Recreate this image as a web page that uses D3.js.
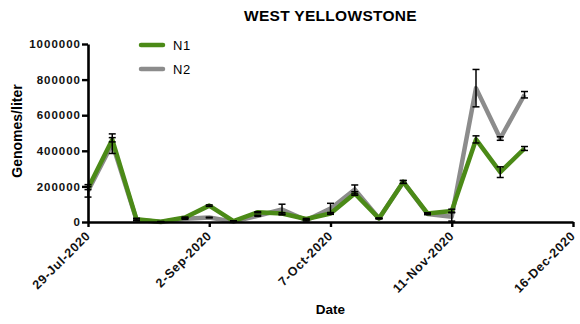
<!DOCTYPE html>
<html>
<head>
<meta charset="utf-8">
<script src="https://cdn.jsdelivr.net/npm/d3@7"></script>
<style>
  body { margin: 0; background: #fff; }
  text { font-family: "Liberation Sans", Arial, sans-serif; }
</style>
</head>
<body>
<div id="chart"></div>
<script>
// Data
const dates = ['2020-07-29', '2020-08-05', '2020-08-12', '2020-08-19', '2020-08-26', '2020-09-02',
  '2020-09-09', '2020-09-16', '2020-09-23', '2020-09-30', '2020-10-07', '2020-10-14', '2020-10-21',
  '2020-10-28', '2020-11-04', '2020-11-11', '2020-11-18', '2020-11-25', '2020-12-02'];
const n1 = [190000, 462000, 15000, 2000, 25000, 92000, 5000, 55000, 48000, 17000, 48000,
  160000, 20000, 225000, 48000, 62000, 464000, 280000, 413000];
const n1Err = [8000, 12000, 6000, 1000, 3000, 4000, 2000, 3000, 4000, 3000, 5000,
  10000, 2000, 8000, 4000, 10000, 20000, 30000, 11000];
const n2 = [175000, 440000, 12000, 0, 18000, 25000, 2000, 35000, 70000, 10000, 75000,
  183000, 20000, 225000, 45000, 30000, 752000, 469000, 715000];
const n2Err = [35000, 55000, 5000, 1000, 3000, 2000, 1000, 3000, 30000, 4000, 30000,
  25000, 2000, 8000, 4000, 25000, 105000, 10000, 18000];
const xTicks = ['2020-07-29', '2020-09-02', '2020-10-07', '2020-11-11', '2020-12-16'];
const yTicks = [0, 200000, 400000, 600000, 800000, 1000000];

// Dimensions
const W = 580, H = 324;
const MARGIN = { TOP: 44, LEFT: 88, RIGHT: 7, BOTTOM: 102 };
const WIDTH = W - MARGIN.LEFT - MARGIN.RIGHT;
const HEIGHT = H - MARGIN.TOP - MARGIN.BOTTOM;

const parse = d3.timeParse('%Y-%m-%d');
const fmt = d3.timeFormat('%-d-%b-%Y');

const svg = d3.select('#chart').append('svg')
  .attr('width', W).attr('height', H);

const g = svg.append('g')
  .attr('transform', `translate(${MARGIN.LEFT}, ${MARGIN.TOP})`);

// Scales
const x = d3.scaleTime()
  .domain([parse(xTicks[0]), parse(xTicks[xTicks.length - 1])])
  .range([0, WIDTH]);
const y = d3.scaleLinear().domain([0, 1000000]).range([HEIGHT, 0]);

// Title
svg.append('text')
  .attr('x', MARGIN.LEFT + WIDTH / 2).attr('y', 21)
  .attr('text-anchor', 'middle')
  .style('font-size', '15.5px').style('font-weight', 'bold')
  .style('letter-spacing', '0.3px')
  .text('WEST YELLOWSTONE');

// Series
const series = [
  { name: 'N2', vals: n2, err: n2Err, color: '#8c8c8c' },
  { name: 'N1', vals: n1, err: n1Err, color: '#4b8a17' }
];

const line = d3.line()
  .x((d) => x(d.date))
  .y((d) => y(d.v));

series.forEach((s) => {
  const pts = dates.map((d, i) => ({ date: parse(d), v: s.vals[i], e: s.err[i] }));
  g.append('path')
    .datum(pts)
    .attr('d', line)
    .attr('fill', 'none')
    .attr('stroke', s.color)
    .attr('stroke-width', 4.5)
    .attr('stroke-linejoin', 'round');
  s.pts = pts;
});

// Error bars
series.forEach((s) => {
  const eb = g.append('g').selectAll('g').data(s.pts).enter().append('g')
    .attr('stroke', '#000').attr('stroke-width', 1.5);
  eb.append('line')
    .attr('x1', (d) => x(d.date)).attr('x2', (d) => x(d.date))
    .attr('y1', (d) => y(d.v + d.e)).attr('y2', (d) => y(Math.max(0, d.v - d.e)));
  eb.append('line')
    .attr('x1', (d) => x(d.date) - 3.5).attr('x2', (d) => x(d.date) + 3.5)
    .attr('y1', (d) => y(d.v + d.e)).attr('y2', (d) => y(d.v + d.e));
  eb.append('line')
    .attr('x1', (d) => x(d.date) - 3.5).attr('x2', (d) => x(d.date) + 3.5)
    .attr('y1', (d) => y(Math.max(0, d.v - d.e))).attr('y2', (d) => y(Math.max(0, d.v - d.e)));
});

// Axes
const yAxis = g.append('g')
  .call(d3.axisLeft(y).tickValues(yTicks).tickSize(6).tickSizeOuter(0).tickFormat(d3.format('d')));
const xAxis = g.append('g')
  .attr('transform', `translate(0, ${HEIGHT})`)
  .call(d3.axisBottom(x).tickValues(xTicks.map(parse)).tickSize(5).tickSizeOuter(0).tickFormat(fmt));

[yAxis, xAxis].forEach((a) => {
  a.select('.domain').attr('stroke', '#000').attr('stroke-width', 2.6);
  a.selectAll('.tick line').attr('stroke', '#000').attr('stroke-width', 2.4);
  a.selectAll('text')
    .style('font-family', '"Liberation Sans", Arial, sans-serif')
    .style('font-weight', 'bold').attr('fill', '#111');
});

yAxis.selectAll('text')
  .style('font-size', '11.5px').style('letter-spacing', '1px')
  .attr('x', -7);

xAxis.selectAll('text')
  .style('font-size', '12.5px').style('letter-spacing', '0.7px')
  .attr('text-anchor', 'end')
  .attr('dy', '0.35em')
  .attr('transform', 'translate(1, 10) rotate(-45)')
  .attr('x', -2).attr('y', 0);

// Axis titles
svg.append('text')
  .attr('x', MARGIN.LEFT + WIDTH / 2).attr('y', 314)
  .attr('text-anchor', 'middle')
  .style('font-size', '13.5px').style('font-weight', 'bold')
  .text('Date');

svg.append('text')
  .attr('transform', `translate(22, ${MARGIN.TOP + HEIGHT / 2 - 2}) rotate(-90)`)
  .attr('text-anchor', 'middle')
  .style('font-size', '14px').style('font-weight', 'bold')
  .text('Genomes/liter');

// Legend
const legend = svg.append('g').attr('transform', 'translate(141, 45)');
[series[1], series[0]].forEach((s, i) => {
  legend.append('line')
    .attr('x1', 0).attr('x2', 22)
    .attr('y1', i * 24).attr('y2', i * 24)
    .attr('stroke', s.color).attr('stroke-width', 4.5)
    .attr('stroke-linecap', 'round');
  legend.append('text')
    .attr('x', 32).attr('y', i * 24).attr('dy', '0.36em')
    .style('font-size', '13px').style('letter-spacing', '0.6px')
    .text(s.name);
});
</script>
</body>
</html>
